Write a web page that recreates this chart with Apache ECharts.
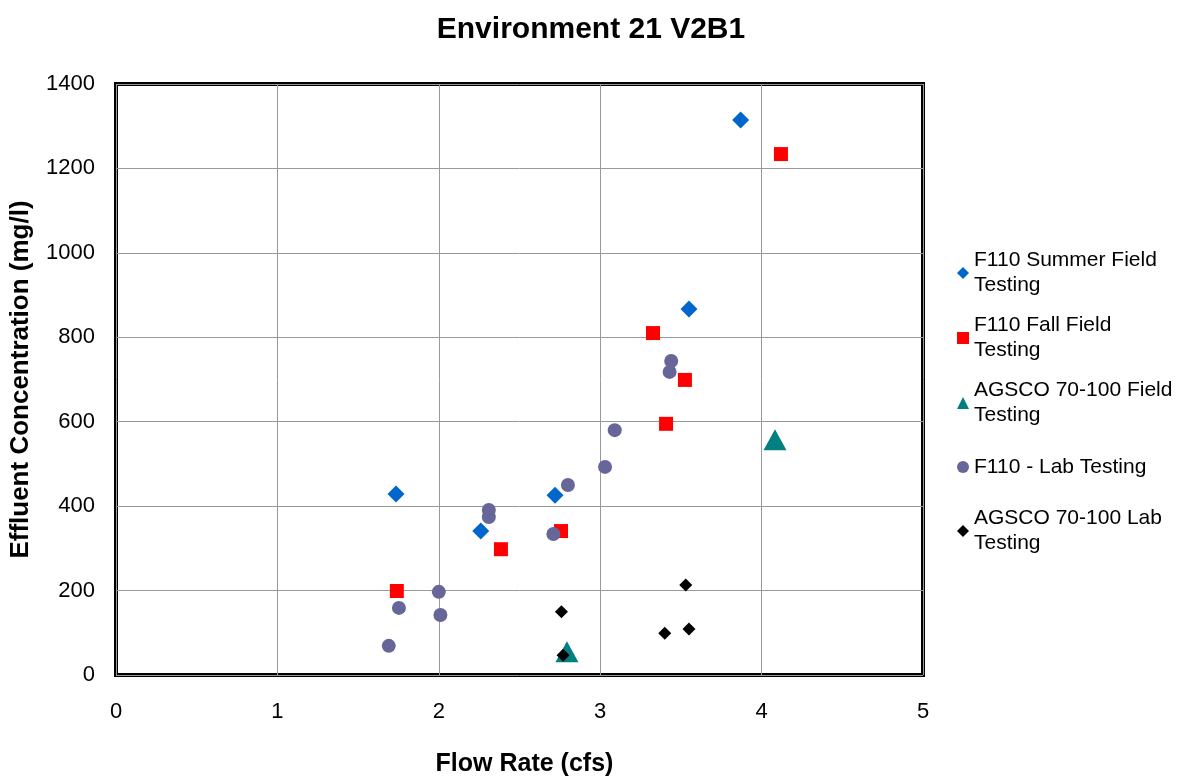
<!DOCTYPE html>
<html>
<head>
<meta charset="utf-8">
<script src="https://cdn.jsdelivr.net/npm/echarts@6/dist/echarts.min.js"></script>
<style>html,body{margin:0;padding:0;background:#fff}#c{width:1178px;height:777px}</style>
</head>
<body>
<div id="c"></div>
<script>
const title = 'Environment 21 V2B1';
const xName = 'Flow Rate (cfs)';
const yName = 'Effluent Concentration (mg/l)';
const seriesNames = ['F110 Summer Field Testing','F110 Fall Field Testing','AGSCO 70-100 Field Testing','F110 - Lab Testing','AGSCO 70-100 Lab Testing'];
const legendLabels = ['F110 Summer Field\nTesting','F110 Fall Field\nTesting','AGSCO 70-100 Field\nTesting','F110 - Lab Testing','AGSCO 70-100 Lab\nTesting'];
const summerField = [[1.735,429],[2.26,341],[2.72,426],[3.55,867],[3.87,1315]];
const fallField = [[1.74,199],[2.385,298],[2.757,341],[3.327,810],[3.525,699],[3.408,595],[4.12,1234]];
const agscoField = [[2.794,55],[4.083,557]];
const labTesting = [[1.69,69],[1.753,159],[2.0,197],[2.01,142],[2.31,391],[2.31,374],[2.71,334],[2.80,450],[3.03,493],[3.09,580],[3.44,744],[3.43,718]];
const agscoLab = [[2.76,150],[3.53,213],[3.40,99],[3.55,109],[2.77,47]];

const chart = echarts.init(document.getElementById('c'));
const FONT = 'Liberation Sans, Arial, sans-serif';
const LH = 25;
const legendIconY = [273,338,403,467,531];
const legends = seriesNames.map((n,i)=>{
  const two = legendLabels[i].indexOf('\n')>=0;
  return {
    data:[n], left:957, top: legendIconY[i] - (two?(LH*1.5):(LH/2)), padding:0,
    itemWidth:12, itemHeight:12, itemGap:6,
    formatter: ()=>legendLabels[i],
    selectedMode:false,
    textStyle:{fontFamily:FONT,fontSize:21,color:'#000',lineHeight:LH,padding: two?[LH,0,0,0]:0}
  };
});
chart.setOption({
  animation:false,
  backgroundColor:'#fff',
  title:{text:title,left:586,top:10,textAlign:'center',textStyle:{fontFamily:FONT,fontSize:30,fontWeight:'bold',color:'#000'}},
  legend:legends,
  grid:{left:116,top:84,width:807,height:591,show:true,borderColor:'#000',borderWidth:4,backgroundColor:'#fff',outerBoundsMode:'none',containLabel:false},
  xAxis:{type:'value',min:0,max:5,interval:1,name:xName,nameLocation:'middle',nameGap:77,nameMoveOverlap:false,
    nameTextStyle:{fontFamily:FONT,fontSize:25,fontWeight:'bold',color:'#000',padding:[0,0,0,10]},
    axisLine:{show:false},axisTick:{show:false},
    axisLabel:{fontFamily:FONT,fontSize:22,color:'#000',margin:26},
    splitLine:{lineStyle:{color:'#999',width:1}}},
  yAxis:{type:'value',min:0,max:1400,interval:200,name:yName,nameLocation:'middle',nameGap:82,nameMoveOverlap:false,
    nameTextStyle:{fontFamily:FONT,fontSize:26,fontWeight:'bold',color:'#000'},
    axisLine:{show:false},axisTick:{show:false},
    axisLabel:{fontFamily:FONT,fontSize:22,color:'#000',margin:21,formatter:v=>String(v)},
    splitLine:{lineStyle:{color:'#999',width:1}}},
  series:[
    {name:seriesNames[0],type:'scatter',data:summerField,symbol:'diamond',symbolSize:17,itemStyle:{color:'#0066CC',opacity:1}},
    {name:seriesNames[1],type:'scatter',data:fallField,symbol:'rect',symbolSize:14,itemStyle:{color:'#FF0000',opacity:1}},
    {name:seriesNames[2],type:'scatter',data:agscoField,symbol:'triangle',symbolSize:[23,21],itemStyle:{color:'#008080',opacity:1}},
    {name:seriesNames[3],type:'scatter',data:labTesting,symbol:'circle',symbolSize:14,itemStyle:{color:'#666699',opacity:1}},
    {name:seriesNames[4],type:'scatter',data:agscoLab,symbol:'diamond',symbolSize:13,itemStyle:{color:'#000000',opacity:1},z:3}
  ]
});
</script>
</body>
</html>
